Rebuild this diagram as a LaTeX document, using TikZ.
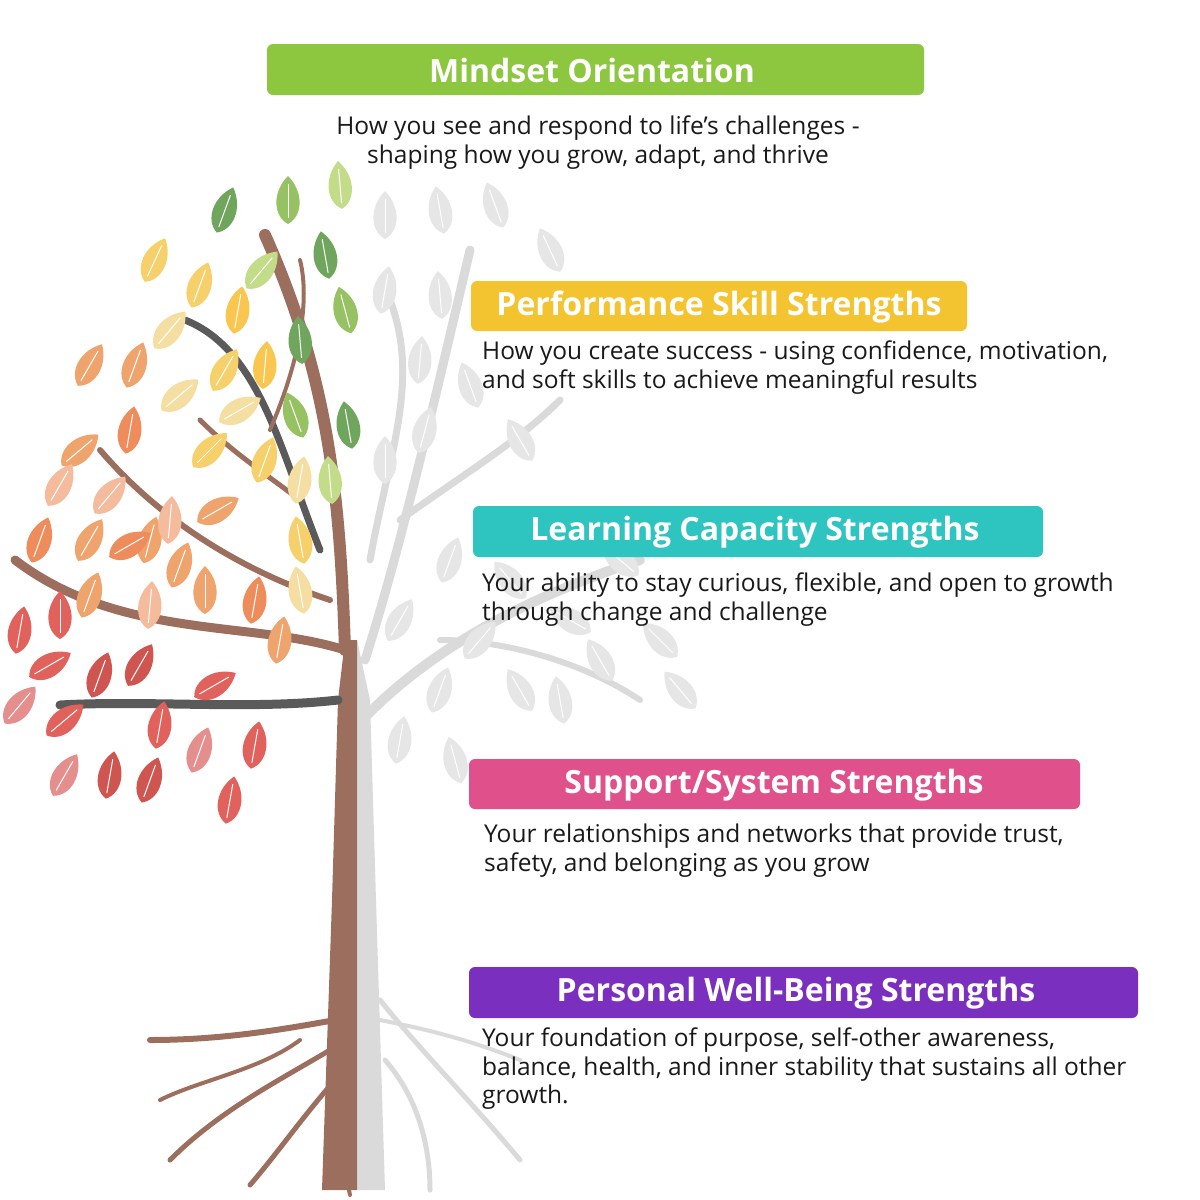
\documentclass[tikz,border=0pt]{standalone}
\usepackage{fontspec}
\setmainfont{Open Sans}
\begin{document}
\begin{tikzpicture}[x=1pt,y=-1pt,
  banner/.style={rounded corners=6pt, inner sep=0pt},
  btitle/.style={text=white, font=\fontsize{32}{36}\selectfont\bfseries},
  body/.style={anchor=north west, align=left, font=\fontsize{24.5}{28.5}\selectfont, inner sep=0pt, text=black!90},
  br/.style={draw=trunk, line cap=round, line width=#1},
  gbr/.style={draw=lg, line cap=round, line width=#1},
  dbr/.style={draw=dk, line cap=round, line width=#1},
  leaf/.pic={\fill (0,24) .. controls (15,16) and (16,-8) .. (0,-24) .. controls (-16,-8) and (-15,16) .. (0,24);
             \draw[white,line width=1pt] (0,18) -- (0,-16);}
]
\definecolor{trunk}{HTML}{9C6E5E}
\definecolor{lg}{HTML}{DADADA}
\definecolor{dk}{HTML}{5A5A5A}
\definecolor{gA}{HTML}{6FA55C}\definecolor{gB}{HTML}{96C264}\definecolor{gC}{HTML}{C3DC8A}
\definecolor{yA}{HTML}{F6D06A}\definecolor{yB}{HTML}{F9C74F}\definecolor{yC}{HTML}{F5DEA2}
\definecolor{oA}{HTML}{EEA46C}\definecolor{oB}{HTML}{EE8C5C}\definecolor{oC}{HTML}{F4BC9C}
\definecolor{rA}{HTML}{E1625C}\definecolor{rB}{HTML}{CF5550}\definecolor{rC}{HTML}{E58E8E}
\definecolor{lf}{HTML}{E6E6E6}
\useasboundingbox (0,0) rectangle (1200,1200);
% grey right half
\fill[lg] (357,640) -- (370,700) -- (376,900) -- (385,1190) -- (357,1190) -- cycle;
\draw[gbr=10] (362,720) .. controls (430,650) and (520,600) .. (640,560);
\draw[gbr=9] (365,660) .. controls (400,550) and (430,420) .. (470,250);
\draw[gbr=7] (400,520) .. controls (470,470) and (520,440) .. (560,400);
\draw[gbr=7] (370,560) .. controls (390,450) and (420,380) .. (390,300);
\draw[gbr=6] (440,640) .. controls (500,640) and (580,660) .. (640,700);
\draw[gbr=5] (380,1000) .. controls (420,1050) and (470,1100) .. (520,1160);
\draw[gbr=5] (385,1060) .. controls (420,1100) and (430,1150) .. (430,1190);
\draw[gbr=4] (380,1020) .. controls (430,1030) and (470,1040) .. (520,1060);
\foreach \x/\y/\a in {385/215/0,440/210/10,495/205/20,550/250/25,385/290/-10,440/295/5,420/360/-5,470/385/20,425/430/-15,385/460/0,520/440/30,450/560/-20,400/620/-30,510/580/40,480/640/-40,620/560/50,660/640/45,600/660/30,560/700/10,440/690/-20,400/740/-10,455/760/15,520/690/30,570/620/60,680/690/40}
  \pic[lf,rotate=\a] at (\x,\y) {leaf};
% trunk (brown left half)
\fill[trunk] (322,1190) -- (332,900) -- (338,700) -- (345,640) -- (357,640) -- (357,1190) -- cycle;
% colored branches
\draw[br=12] (345,650) .. controls (340,500) and (330,380) .. (265,235);
\draw[br=9] (345,650) .. controls (250,620) and (120,640) .. (15,560);
\draw[dbr=9] (338,700) .. controls (250,710) and (150,700) .. (60,705);
\draw[dbr=7] (320,550) .. controls (280,450) and (260,350) .. (185,320);
\draw[br=6] (330,600) .. controls (240,570) and (160,520) .. (100,450);
\draw[br=5] (300,500) .. controls (260,470) and (230,450) .. (200,420);
\draw[br=4] (270,430) .. controls (300,360) and (310,300) .. (300,260);
% roots
\draw[br=6] (335,1020) .. controls (280,1030) and (220,1040) .. (150,1040);
\draw[br=5] (330,1050) .. controls (280,1080) and (220,1110) .. (170,1160);
\draw[br=5] (335,1080) .. controls (300,1120) and (280,1150) .. (250,1185);
\draw[br=4] (300,1040) .. controls (260,1070) and (200,1080) .. (160,1100);
\draw[br=4] (345,1100) .. controls (340,1140) and (345,1170) .. (350,1195);
% colored leaves
\foreach \x/\y/\a/\c in {225/210/-20/gA,288/200/0/gB,340/185/5/gC,262/270/-40/gC,325/255/10/gA,345/310/15/gB,300/340/5/gA,265/365/-5/yB,295/415/20/gB,348/425/10/gA,330/480/5/gC,155/260/-25/yA,200/285/-20/yA,238/310/-10/yB,170/330/-40/yC,225/370/-30/yA,180/395/-50/yC,240/410/-60/yC,210/450/-45/yA,265/460/-20/yA,300/480/-10/yC,218/510/-60/oA,150/540/-15/oA,90/365/-30/oA,135/365/-20/oA,130/430/-10/oB,80/450/-50/oA,60/485/-30/oC,110/495/-40/oC,40/540/-20/oB,90/540/-30/oA,170/520/-5/oC,130/545/-60/oB,180/565/-20/oA,205/590/0/oA,255/600/-10/oB,300/590/10/yC,150/605/-5/oC,90/595/-20/oA,60/615/0/rA,20/630/-10/rA,50/665/-60/rA,100/675/-20/rB,140/665/-30/rB,215/685/-60/rA,20/705/-40/rC,65/720/-50/rA,160/725/-10/rA,200/750/-20/rC,255/745/-10/rA,110/775/-10/rB,150/780/-20/rB,230/800/-10/rA,65/775/-30/rC,280/640/-10/oA,300/540/10/yA}
  \pic[\c,rotate=\a] at (\x,\y) {leaf};
% banners
\definecolor{cM}{HTML}{8DC63F}\definecolor{cP}{HTML}{F4C430}\definecolor{cL}{HTML}{2EC4C0}\definecolor{cS}{HTML}{E0508A}\definecolor{cW}{HTML}{7B2FBE}
\fill[banner,cM] (267,44) rectangle (924,95);
\fill[banner,cP] (471,281) rectangle (967,331);
\fill[banner,cL] (473,506) rectangle (1043,557);
\fill[banner,cS] (469,759) rectangle (1080,809);
\fill[banner,cW] (469,967) rectangle (1138,1018);
\node[btitle] (tM) at (592,70) {Mindset Orientation};
\node[btitle] (tP) at (719,307) {Performance Skill Strengths};
\node[btitle] (tL) at (755,532) {Learning Capacity Strengths};
\node[btitle] (tS) at (774,785) {Support/System Strengths};
\node[btitle] (tW) at (796,993) {Personal Well-Being Strengths};
\node[body,anchor=north,align=center] (dM) at (598,116) {How you see and respond to life’s challenges -\\shaping how you grow, adapt, and thrive};
\node[body] (dP) at (482,341) {How you create success - using confidence, motivation,\\and soft skills to achieve meaningful results};
\node[body] (dL) at (482,573) {Your ability to stay curious, flexible, and open to growth\\through change and challenge};
\node[body] (dS) at (484,824) {Your relationships and networks that provide trust,\\safety, and belonging as you grow};
\node[body] (dW) at (482,1028) {Your foundation of purpose, self-other awareness,\\balance, health, and inner stability that sustains all other\\growth.};
\end{tikzpicture}
\end{document}
